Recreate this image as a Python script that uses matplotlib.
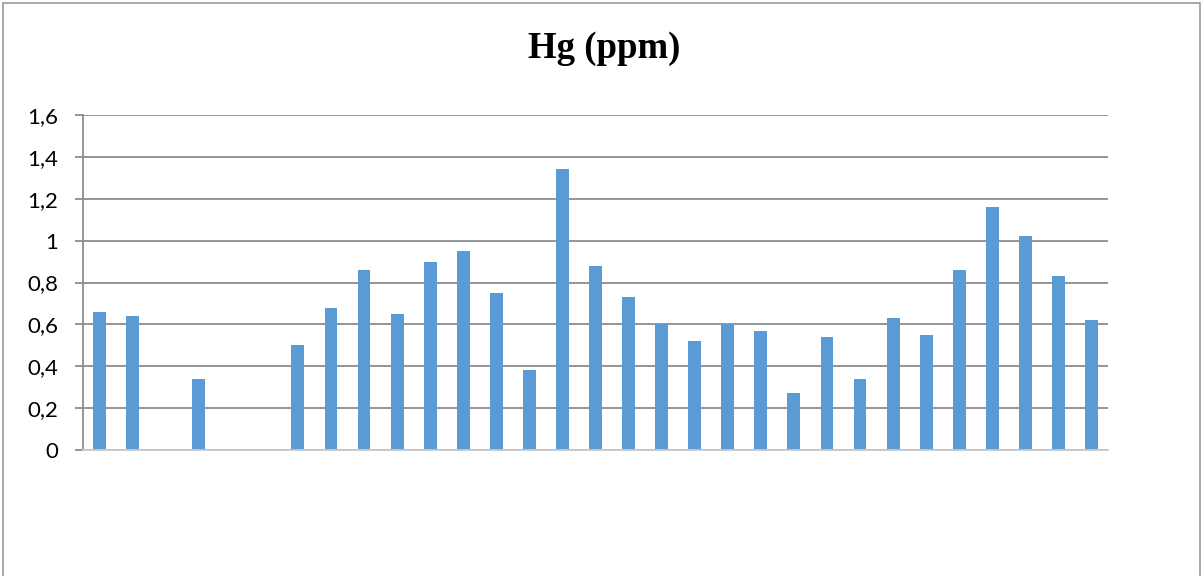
import matplotlib
matplotlib.use("Agg")
import matplotlib.pyplot as plt
import numpy as np
from matplotlib.ticker import FixedLocator
from matplotlib.patches import Rectangle

# Data (31 samples; None = missing)
categories = list(range(1, 32))
values = [0.66, 0.64, None, 0.34, None, None, 0.50, 0.68, 0.86, 0.65,
          0.90, 0.95, 0.75, 0.38, 1.34, 0.88, 0.73, 0.60, 0.52, 0.60,
          0.57, 0.27, 0.54, 0.34, 0.63, 0.55, 0.86, 1.16, 1.02, 0.83, 0.62]
y_ticks = [0, 0.2, 0.4, 0.6, 0.8, 1.0, 1.2, 1.4, 1.6]
y_tick_labels = ["0", "0,2", "0,4", "0,6", "0,8", "1", "1,2", "1,4", "1,6"]
title = "Hg (ppm)"

W, H = 1204, 576
fig = plt.figure(figsize=(W / 100, H / 100), dpi=100)
ax = fig.add_axes([83 / W, 1 - 450 / H, (1108 - 83) / W, (450 - 115) / H])

x = np.arange(len(categories))
heights = [v if v is not None else 0 for v in values]
mask = [v is not None for v in values]
ax.bar(x[mask], np.array(heights)[mask], width=0.39, color="#5b9bd5", zorder=3)

ax.set_xlim(-0.5, len(categories) - 0.5)
ax.set_ylim(0, 1.6)
ax.yaxis.set_major_locator(FixedLocator(y_ticks))
ax.set_yticklabels(y_tick_labels)
ax.set_xticks([])

ax.grid(axis="y", color="#8c8c8c", linewidth=1.3, zorder=0)
for s in ["top", "right"]:
    ax.spines[s].set_visible(False)
ax.spines["left"].set_color("#8c8c8c")
ax.spines["left"].set_linewidth(1.3)
ax.spines["bottom"].set_color("#c8c8c8")
ax.spines["bottom"].set_linewidth(1.3)
ax.spines["bottom"].set_zorder(4)

ax.tick_params(axis="y", length=6, width=1.3, color="#8c8c8c", pad=12,
               labelsize=16, labelcolor="#000000")
for lbl in ax.get_yticklabels():
    lbl.set_family(["Lato", "DejaVu Sans"])

fig.text(604 / W, 1 - 48 / H, title, ha="center", va="center",
         fontsize=26.5, fontweight="bold", family=["Liberation Serif", "DejaVu Serif"])

# outer chart border
border = Rectangle((3 / W, -0.05), (1200 - 3) / W, 1 - 3 / H + 0.05,
                   transform=fig.transFigure, fill=False,
                   edgecolor="#9a9a9a", linewidth=1.2)
fig.patches.append(border)

fig.savefig("out.png", dpi=100)
